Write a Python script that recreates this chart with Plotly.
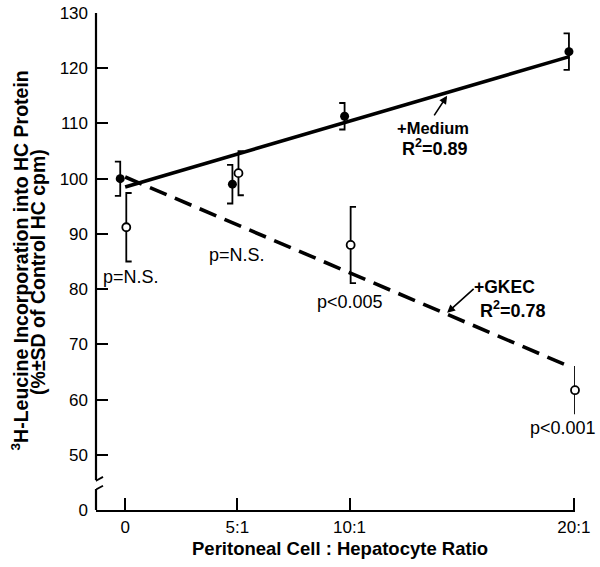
import plotly.graph_objects as go

# ---------------- data ----------------
ratio_x = [0, 5, 10, 20]
tick_labels_x = ["0", "5:1", "10:1", "20:1"]

medium_mean = [100.0, 99.0, 111.3, 123.0]
medium_sd = [3.1, 3.5, 2.4, 3.3]

gkec_mean = [91.2, 101.0, 88.0, 61.7]
gkec_sd = [6.2, 4.0, 6.9, 4.2]

fit_x = [0, 19.8]
medium_fit = [98.5, 122.1]
gkec_fit = [100.3, 66.0]

y_tickvals = [40, 50, 60, 70, 80, 90, 100, 110, 120, 130]
y_ticktext = ["0", "50", "60", "70", "80", "90", "100", "110", "120", "130"]

p_labels = ["p=N.S.", "p=N.S.", "p<0.005"]
p_pos_x = [0.27, 4.97, 10.0]
p_pos_y = [82.2, 86.2, 77.7]
p_last_label = "p<0.001"
p_last_y = 54.9

# ---------------- style ----------------
FONT = "Liberation Sans, Arial, Helvetica, sans-serif"
MED_DX = -0.22
GK_DX = 0.05
CAP = 0.24
XR = [-1.3, 20.05]
YR = [40, 130]


def bracket(xs, means, sds, dx, cap_dir):
    bx, by = [], []
    for x, m, s in zip(xs, means, sds):
        xc = x + dx
        hi, lo = m + s, m - s
        bx += [xc + cap_dir * CAP, xc, xc, xc + cap_dir * CAP, None]
        by += [hi, hi, lo, lo, None]
    return bx, by


fig = go.Figure()

# regression lines
fig.add_trace(go.Scatter(x=fit_x, y=medium_fit, mode="lines", cliponaxis=False,
                         line=dict(color="black", width=3.6), hoverinfo="skip"))
fig.add_trace(go.Scatter(x=fit_x, y=gkec_fit, mode="lines", cliponaxis=False,
                         line=dict(color="black", width=3.6, dash="18px,9px"),
                         hoverinfo="skip"))

# error brackets
bx, by = bracket(ratio_x, medium_mean, medium_sd, MED_DX, -1)
fig.add_trace(go.Scatter(x=bx, y=by, mode="lines", cliponaxis=False,
                         line=dict(color="black", width=1.8), hoverinfo="skip"))
bx, by = bracket(ratio_x, gkec_mean, gkec_sd, GK_DX, 1)
fig.add_trace(go.Scatter(x=bx, y=by, mode="lines", cliponaxis=False,
                         line=dict(color="black", width=1.8), hoverinfo="skip"))

# markers
fig.add_trace(go.Scatter(x=[v + MED_DX for v in ratio_x], y=medium_mean, mode="markers",
                         cliponaxis=False,
                         marker=dict(color="black", size=9, line=dict(width=0))))
fig.add_trace(go.Scatter(x=[v + GK_DX for v in ratio_x], y=gkec_mean, mode="markers",
                         cliponaxis=False,
                         marker=dict(color="white", size=8,
                                     line=dict(color="black", width=1.8))))

annotations = []
for t, x, y in zip(p_labels, p_pos_x, p_pos_y):
    annotations.append(dict(x=x, y=y, xref="x", yref="y", text=t, showarrow=False,
                            font=dict(family=FONT, size=18, color="black")))
annotations.append(dict(x=1.049, y=p_last_y, xref="paper", yref="y", text=p_last_label,
                        showarrow=False, xanchor="right",
                        font=dict(family=FONT, size=18, color="black")))

# series labels with arrows
annotations += [
    dict(x=13.7, y=109.2, text="<b>+Medium</b>", showarrow=False,
         font=dict(family=FONT, size=16.5, color="black")),
    dict(x=13.8, y=105.6, text="<b>R<sup>2</sup>=0.89</b>", showarrow=False,
         font=dict(family=FONT, size=18, color="black")),
    dict(x=14.35, y=115.0, ax=13.73, ay=111.2, axref="x", ayref="y", text="",
         showarrow=True, arrowhead=2, arrowsize=1, arrowwidth=1.6, arrowcolor="black"),
    dict(x=16.9, y=80.4, text="<b>+GKEC</b>", showarrow=False,
         font=dict(family=FONT, size=17.5, color="black")),
    dict(x=17.3, y=76.3, text="<b>R<sup>2</sup>=0.78</b>", showarrow=False,
         font=dict(family=FONT, size=18, color="black")),
    dict(x=14.35, y=75.7, ax=15.6, ay=80.3, axref="x", ayref="y", text="",
         showarrow=True, arrowhead=2, arrowsize=1, arrowwidth=1.6, arrowcolor="black"),
    # axis titles
    dict(x=-0.1597, y=0.501, xref="paper", yref="paper",
         xanchor="center", yanchor="middle",
         text="<b><sup>3</sup>H-Leucine Incorporation into HC Protein</b>",
         textangle=-90, showarrow=False,
         font=dict(family=FONT, size=19.5, color="black")),
    dict(x=-0.1211, y=0.479, xref="paper", yref="paper",
         xanchor="center", yanchor="middle",
         text="<b>(%±SD of Control HC cpm)</b>",
         textangle=-90, showarrow=False,
         font=dict(family=FONT, size=19.5, color="black")),
    dict(x=0.509, y=-0.0765, xref="paper", yref="paper",
         xanchor="center", yanchor="middle",
         text="<b>Peritoneal Cell : Hepatocyte Ratio</b>",
         showarrow=False,
         font=dict(family=FONT, size=18.5, color="black")),
]

# broken y-axis drawn as shapes
shapes = [
    dict(type="line", xref="paper", yref="y", x0=0, x1=0, y0=45.4, y1=130,
         line=dict(color="black", width=2.2)),
    dict(type="line", xref="paper", yref="y", x0=0, x1=0, y0=40, y1=43.8,
         line=dict(color="black", width=2.2)),
    dict(type="line", xref="x", yref="y", xsizemode="pixel", xanchor=XR[0],
         x0=-4, x1=7, y0=44.9, y1=46.0, line=dict(color="black", width=1.8)),
    dict(type="line", xref="x", yref="y", xsizemode="pixel", xanchor=XR[0],
         x0=-4, x1=7, y0=43.3, y1=44.4, line=dict(color="black", width=1.8)),
]

fig.update_layout(
    width=600, height=567,
    margin=dict(l=96, r=25, t=13, b=57),
    paper_bgcolor="white", plot_bgcolor="white",
    showlegend=False,
    hovermode=False,
    font=dict(family=FONT, color="black"),
    annotations=annotations,
    shapes=shapes,
    xaxis=dict(range=XR, tickvals=ratio_x, ticktext=tick_labels_x,
               ticks="inside", ticklen=12, tickwidth=2, tickcolor="black",
               showline=True, linecolor="black", linewidth=2.2,
               showgrid=False, zeroline=False, automargin=False,
               tickfont=dict(family=FONT, size=17, color="black")),
    yaxis=dict(range=YR, tickvals=y_tickvals, ticktext=y_ticktext,
               ticks="inside", ticklen=12, tickwidth=2, tickcolor="black",
               showline=False, showgrid=False, zeroline=False, automargin=False,
               ticklabelstandoff=7,
               tickfont=dict(family=FONT, size=17, color="black")),
)

fig.write_html("out.html", config={"displayModeBar": False},
               post_script="document.body.style.margin='0';")
